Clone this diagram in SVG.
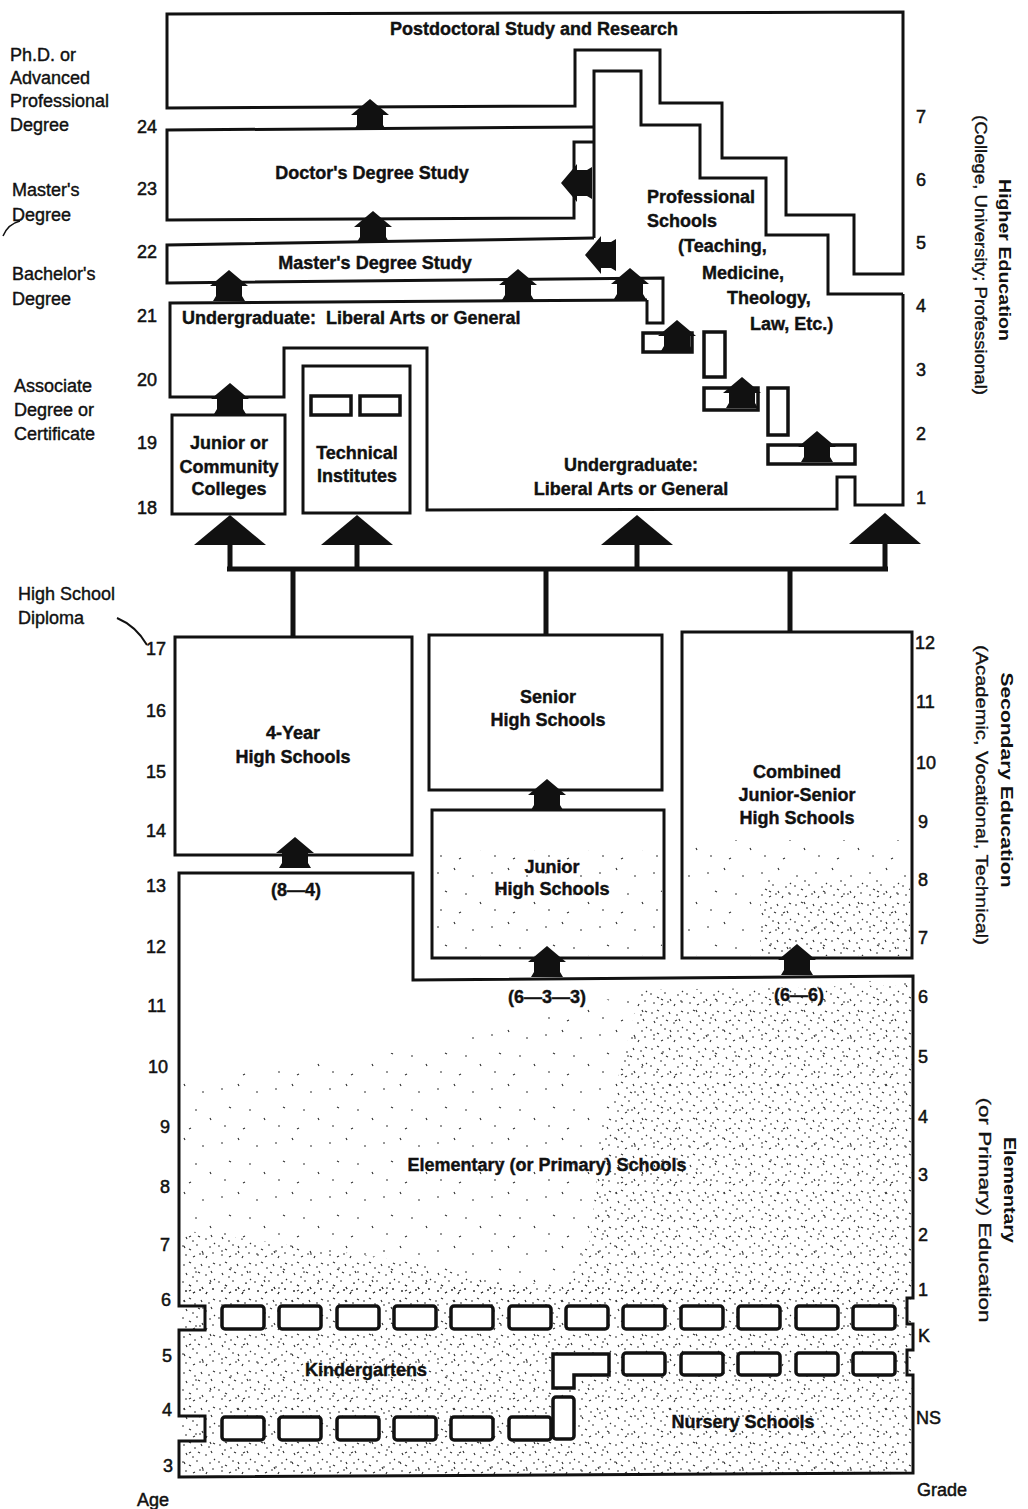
<svg xmlns="http://www.w3.org/2000/svg" width="1028" height="1509" viewBox="0 0 1028 1509">
<defs>
<style>
.ln{fill:none;stroke:#111;stroke-width:3;stroke-linejoin:miter}
.sb{fill:#fff;stroke:#111;stroke-width:3.5}
.t{font-family:"Liberation Sans",Arial,Helvetica,sans-serif;font-weight:700;font-size:18px;fill:#111;stroke:#111;stroke-width:0.4;text-anchor:middle}
.ts{font-family:"Liberation Sans",Arial,Helvetica,sans-serif;font-weight:700;font-size:18px;fill:#111;stroke:#111;stroke-width:0.4}
.s{font-family:"Liberation Sans",Arial,Helvetica,sans-serif;font-size:18px;fill:#111;stroke:#111;stroke-width:0.4}
.na{font-family:"Liberation Sans",Arial,Helvetica,sans-serif;font-size:18px;fill:#111;stroke:#111;stroke-width:0.5;text-anchor:end}
.ng{font-family:"Liberation Sans",Arial,Helvetica,sans-serif;font-size:18px;fill:#111;stroke:#111;stroke-width:0.5}
.r1{font-family:"Liberation Sans",Arial,Helvetica,sans-serif;font-weight:700;font-size:17px;fill:#111;text-anchor:middle}
.r2{font-family:"Liberation Sans",Arial,Helvetica,sans-serif;font-size:17px;fill:#111;stroke:#111;stroke-width:0.35;text-anchor:middle}
.ar{fill:#111}
.st{fill:none;stroke:#111;stroke-width:5}
</style>
<path id="ha" d="M0,-16 L19,0 L13,0 L13,10 L16,15 L-16,15 L-13,10 L-13,0 L-19,0 Z"/>
<pattern id="spD" width="36" height="36" patternUnits="userSpaceOnUse">
<path d="M3,5h2 M9,2l2,1 M14,8h2 M21,4l1,2 M28,7h2 M33,3l2,1 M6,13l1,2 M12,17h2 M18,12l2,1 M25,15h2 M31,11l1,2 M2,22h2 M9,25l2,1 M16,21h2 M22,27l1,2 M29,23h2 M34,19l1,1 M5,31h2 M13,33l2,-1 M19,30h2 M26,34l1,-2 M32,29h2" stroke="#333" stroke-width="1.2" fill="none"/>
</pattern>
<pattern id="spS" width="54" height="54" patternUnits="userSpaceOnUse">
<path d="M5,9h2 M22,4l1,2 M40,12h2 M13,27l2,1 M33,30h2 M48,38l1,2 M8,46h2 M27,49l2,-1" stroke="#333" stroke-width="1.2" fill="none"/>
</pattern>
</defs>
<rect x="0" y="0" width="1028" height="1509" fill="#fff"/>

<!-- side labels -->
<g id="left-labels">
<text class="s" x="10" y="61">Ph.D. or</text>
<text class="s" x="10" y="84">Advanced</text>
<text class="s" x="10" y="107">Professional</text>
<text class="s" x="10" y="131">Degree</text>
<text class="s" x="12" y="196">Master's</text>
<text class="s" x="12" y="221">Degree</text>
<path d="M3,236 Q8,224 20,221" fill="none" stroke="#111" stroke-width="1.5"/>
<text class="s" x="12" y="280">Bachelor's</text>
<text class="s" x="12" y="305">Degree</text>
<text class="s" x="14" y="392">Associate</text>
<text class="s" x="14" y="416">Degree or</text>
<text class="s" x="14" y="440">Certificate</text>
<text class="s" x="18" y="600">High School</text>
<text class="s" x="18" y="624">Diploma</text>
<path d="M117,618 Q136,626 147,645" fill="none" stroke="#111" stroke-width="2"/>
</g>

<g id="ages">
<text class="na" x="157" y="133">24</text>
<text class="na" x="157" y="195">23</text>
<text class="na" x="157" y="258">22</text>
<text class="na" x="157" y="322">21</text>
<text class="na" x="157" y="386">20</text>
<text class="na" x="157" y="449">19</text>
<text class="na" x="157" y="514">18</text>
<text class="na" x="166" y="655">17</text>
<text class="na" x="166" y="717">16</text>
<text class="na" x="166" y="778">15</text>
<text class="na" x="166" y="837">14</text>
<text class="na" x="166" y="892">13</text>
<text class="na" x="166" y="953">12</text>
<text class="na" x="166" y="1012">11</text>
<text class="na" x="168" y="1073">10</text>
<text class="na" x="170" y="1133">9</text>
<text class="na" x="170" y="1193">8</text>
<text class="na" x="170" y="1251">7</text>
<text class="na" x="171" y="1306">6</text>
<text class="na" x="172" y="1362">5</text>
<text class="na" x="172" y="1416">4</text>
<text class="na" x="173" y="1472">3</text>
<text class="ng" x="137" y="1506">Age</text>
</g>

<g id="grades">
<text class="ng" x="916" y="123">7</text>
<text class="ng" x="916" y="186">6</text>
<text class="ng" x="916" y="249">5</text>
<text class="ng" x="916" y="312">4</text>
<text class="ng" x="916" y="376">3</text>
<text class="ng" x="916" y="440">2</text>
<text class="ng" x="916" y="504">1</text>
<text class="ng" x="915" y="649">12</text>
<text class="ng" x="916" y="708">11</text>
<text class="ng" x="916" y="769">10</text>
<text class="ng" x="918" y="828">9</text>
<text class="ng" x="918" y="886">8</text>
<text class="ng" x="918" y="944">7</text>
<text class="ng" x="918" y="1003">6</text>
<text class="ng" x="918" y="1063">5</text>
<text class="ng" x="918" y="1123">4</text>
<text class="ng" x="918" y="1181">3</text>
<text class="ng" x="918" y="1241">2</text>
<text class="ng" x="918" y="1296">1</text>
<text class="ng" x="918" y="1342">K</text>
<text class="ng" x="916" y="1424">NS</text>
<text class="ng" x="917" y="1496">Grade</text>
</g>

<g id="level-labels">
<text class="r1" transform="translate(999,260) rotate(90)" textLength="162" lengthAdjust="spacingAndGlyphs">Higher Education</text>
<text class="r2" transform="translate(975,255) rotate(90)" textLength="280" lengthAdjust="spacingAndGlyphs">(College, University; Professional)</text>
<text class="r1" transform="translate(1001,780) rotate(90)" textLength="215" lengthAdjust="spacingAndGlyphs">Secondary Education</text>
<text class="r2" transform="translate(976,795) rotate(90)" textLength="300" lengthAdjust="spacingAndGlyphs">(Academic, Vocational, Technical)</text>
<text class="r1" transform="translate(1004,1190) rotate(90)" textLength="106" lengthAdjust="spacingAndGlyphs">Elementary</text>
<text class="r2" transform="translate(979,1210) rotate(90)" textLength="225" lengthAdjust="spacingAndGlyphs">(or Primary) Education</text>
</g>

<!-- Higher education -->
<g id="postdoc">
<path class="ln" d="M167,14 L903,12 L903,274 L854,274 L854,215 L786,215 L786,158 L722,158 L722,103 L660,103 L660,50 L575,50 L575,106 L167,108 Z"/>
<text class="t" x="534" y="35">Postdoctoral Study and Research</text>
</g>

<g id="doctors">
<path class="ln" d="M594,127 L167,130 L167,220 L574,218 L574,142 L594,142"/>
<text class="t" x="372" y="179">Doctor's Degree Study</text>
</g>

<g id="masters">
<path class="ln" d="M594,238 L167,245 L167,283 L663,278 L663,323 L647,323 L647,300"/>
<text class="t" x="375" y="269">Master's Degree Study</text>
</g>

<g id="professional">
<path class="ln" d="M594,238 L594,71 L641,71 L641,125 L700,125 L700,178 L766,178 L766,235 L828,235 L828,294 L903,294"/>
<text class="ts" x="647" y="203">Professional</text>
<text class="ts" x="647" y="227">Schools</text>
<text class="ts" x="678" y="252">(Teaching,</text>
<text class="ts" x="702" y="279">Medicine,</text>
<text class="ts" x="727" y="304">Theology,</text>
<text class="ts" x="750" y="330">Law, Etc.)</text>
</g>

<g id="undergrad">
<path class="ln" d="M647,300 L170,303 L170,397 L284,397 L284,348 L427,348 L427,510 L837,509 L837,477 L855,477 L855,505 L903,505 L903,294"/>
<rect class="sb" x="643" y="333" width="49" height="19"/>
<rect class="sb" x="704" y="332" width="21" height="45"/>
<rect class="sb" x="704" y="388" width="54" height="22"/>
<rect class="sb" x="768" y="388" width="20" height="47"/>
<rect class="sb" x="768" y="445" width="87" height="19"/>
<text class="ts" x="182" y="324">Undergraduate:&#160; Liberal Arts or General</text>
<text class="t" x="631" y="471">Undergraduate:</text>
<text class="t" x="631" y="495">Liberal Arts or General</text>
</g>

<g id="junior-college">
<rect class="ln" x="172" y="415" width="113" height="99"/>
<text class="t" x="229" y="449">Junior or</text>
<text class="t" x="229" y="473">Community</text>
<text class="t" x="229" y="495">Colleges</text>
</g>

<g id="technical">
<rect class="ln" x="303" y="366" width="107" height="147"/>
<rect class="sb" x="311" y="396" width="40" height="19"/>
<rect class="sb" x="360" y="396" width="40" height="19"/>
<text class="t" x="357" y="459">Technical</text>
<text class="t" x="357" y="482">Institutes</text>
</g>

<!-- Secondary -->
<g id="hs4">
<rect class="ln" x="175" y="637" width="237" height="218"/>
<text class="t" x="293" y="739">4-Year</text>
<text class="t" x="293" y="763">High Schools</text>
</g>
<g id="senior-hs">
<rect class="ln" x="429" y="635" width="233" height="155"/>
<text class="t" x="548" y="703">Senior</text>
<text class="t" x="548" y="726">High Schools</text>
</g>
<g id="junior-hs">
<rect fill="url(#spS)" x="434" y="850" width="228" height="106"/>
<rect class="ln" x="432" y="810" width="232" height="148"/>
<text class="t" x="552" y="873">Junior</text>
<text class="t" x="552" y="895">High Schools</text>
</g>
<g id="combined-hs">
<rect fill="url(#spS)" x="684" y="840" width="226" height="116"/>
<rect fill="url(#spD)" x="760" y="880" width="150" height="76"/>
<rect class="ln" x="682" y="632" width="230" height="326"/>
<text class="t" x="797" y="778">Combined</text>
<text class="t" x="797" y="801">Junior-Senior</text>
<text class="t" x="797" y="824">High Schools</text>
</g>

<!-- Elementary -->
<g id="elementary">
<path fill="url(#spS)" d="M181,1080 L413,1050 L600,1000 L913,978 L913,1475 L181,1477 Z"/>
<path fill="url(#spD)" d="M640,990 L911,985 L911,1296 L560,1296 L590,1240 L600,1150 Z"/>
<path fill="url(#spD)" d="M181,1230 L400,1260 L560,1296 L181,1296 Z"/>
<rect fill="url(#spD)" x="181" y="1283" width="730" height="192"/>
<path class="ln" d="M179,873 L413,873 L413,980 L913,976 L913,1298 L907,1298 L907,1324 L913,1324 L913,1350 L907,1350 L907,1375 L913,1375 L913,1473 L179,1477 L179,1441 L205,1441 L205,1416 L179,1416 L179,1330 L205,1330 L205,1306 L179,1306 Z"/>
<text class="t" x="296" y="896">(8—4)</text>
<text class="t" x="547" y="1003">(6—3—3)</text>
<text class="t" x="799" y="1001">(6—6)</text>
<text class="t" x="547" y="1171">Elementary (or Primary) Schools</text>
</g>

<g id="kindergartens">
<g>
<rect class="sb" x="222" y="1306" width="42" height="23" rx="3"/>
<rect class="sb" x="279" y="1306" width="42" height="23" rx="3"/>
<rect class="sb" x="337" y="1306" width="42" height="23" rx="3"/>
<rect class="sb" x="394" y="1306" width="42" height="23" rx="3"/>
<rect class="sb" x="451" y="1306" width="42" height="23" rx="3"/>
<rect class="sb" x="509" y="1306" width="42" height="23" rx="3"/>
<rect class="sb" x="566" y="1306" width="42" height="23" rx="3"/>
<rect class="sb" x="623" y="1306" width="42" height="23" rx="3"/>
<rect class="sb" x="681" y="1306" width="42" height="23" rx="3"/>
<rect class="sb" x="738" y="1306" width="42" height="23" rx="3"/>
<rect class="sb" x="796" y="1306" width="42" height="23" rx="3"/>
<rect class="sb" x="853" y="1306" width="42" height="23" rx="3"/>
</g>
<text class="t" x="366" y="1376">Kindergartens</text>
</g>

<g id="nursery">
<path class="sb" d="M553,1354 L609,1354 L609,1375 L574,1375 L574,1388 L553,1388 Z"/>
<rect class="sb" x="623" y="1353" width="42" height="22" rx="3"/>
<rect class="sb" x="681" y="1353" width="42" height="22" rx="3"/>
<rect class="sb" x="738" y="1353" width="42" height="22" rx="3"/>
<rect class="sb" x="796" y="1353" width="42" height="22" rx="3"/>
<rect class="sb" x="853" y="1353" width="42" height="22" rx="3"/>
<rect class="sb" x="553" y="1397" width="21" height="42" rx="3"/>
<rect class="sb" x="222" y="1417" width="42" height="23" rx="3"/>
<rect class="sb" x="279" y="1417" width="42" height="23" rx="3"/>
<rect class="sb" x="337" y="1417" width="42" height="23" rx="3"/>
<rect class="sb" x="394" y="1417" width="42" height="23" rx="3"/>
<rect class="sb" x="451" y="1417" width="42" height="23" rx="3"/>
<rect class="sb" x="509" y="1417" width="42" height="23" rx="3"/>
<text class="t" x="743" y="1428">Nursery Schools</text>
</g>

<!-- Connectors -->
<g id="connectors">
<path class="st" d="M230,544 V569 M357,544 V569 M637,544 V569 M885,544 V569 M227,569 H888 M293,569 V637 M546,569 V635 M790,569 V632"/>
<path class="ar" d="M230,515 L266,545 L194,545 Z"/>
<path class="ar" d="M357,515 L393,545 L321,545 Z"/>
<path class="ar" d="M637,515 L673,545 L601,545 Z"/>
<path class="ar" d="M885,513 L921,544 L849,544 Z"/>
<use href="#ha" class="ar" x="370" y="115"/>
<use href="#ha" class="ar" x="373" y="227"/>
<use href="#ha" class="ar" x="229" y="286"/>
<use href="#ha" class="ar" x="518" y="285"/>
<use href="#ha" class="ar" x="630" y="284"/>
<use href="#ha" class="ar" transform="translate(577,183) rotate(-90)"/>
<use href="#ha" class="ar" transform="translate(601,255) rotate(-90)"/>
<use href="#ha" class="ar" x="677" y="336"/>
<use href="#ha" class="ar" x="742" y="393"/>
<use href="#ha" class="ar" x="817" y="447"/>
<use href="#ha" class="ar" x="230" y="399"/>
<use href="#ha" class="ar" x="295" y="853"/>
<use href="#ha" class="ar" x="547" y="795"/>
<use href="#ha" class="ar" x="547" y="962"/>
<use href="#ha" class="ar" x="797" y="960"/>
</g>
</svg>
